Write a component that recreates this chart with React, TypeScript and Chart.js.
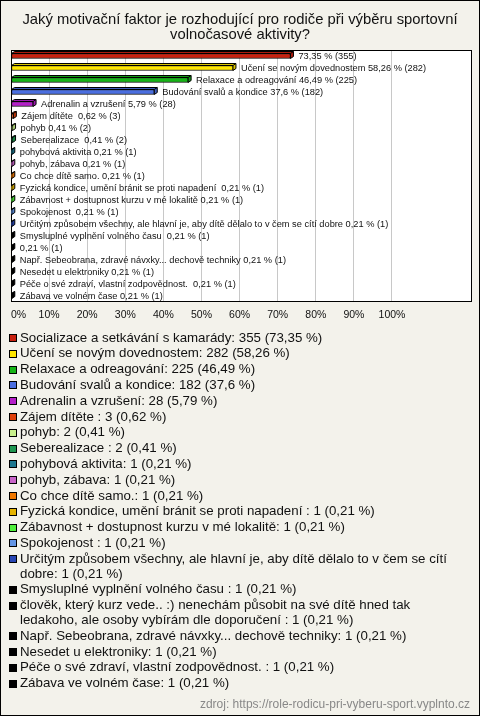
import React, { useEffect, useRef } from 'react';
import { Chart, registerables } from 'chart.js';

Chart.register(...registerables);

const titleLines = [
  'Jaký motivační faktor je rozhodující pro rodiče při výběru sportovní',
  'volnočasové aktivity?',
];

const categories = [
  'Socializace a setkávání s kamarády',
  'Učení se novým dovednostem',
  'Relaxace a odreagování',
  'Budování svalů a kondice',
  'Adrenalin a vzrušení',
  'Zájem dítěte ',
  'pohyb',
  'Seberealizace ',
  'pohybová aktivita',
  'pohyb, zábava',
  'Co chce dítě samo.',
  'Fyzická kondice, umění bránit se proti napadení ',
  'Zábavnost + dostupnost kurzu v mé lokalitě',
  'Spokojenost ',
  'Určitým způsobem všechny, ale hlavní je, aby dítě dělalo to v čem se cítí dobre',
  'Smysluplné vyplnění volného času ',
  'člověk, který kurz vede.. :) nenechám působit na své dítě hned tak ledakoho, ale osoby vybírám dle doporučení ',
  'Např. Sebeobrana, zdravé návxky... dechově techniky',
  'Nesedet u elektroniky',
  'Péče o své zdraví, vlastní zodpovědnost. ',
  'Zábava ve volném čase',
];

const barNames = [
  '',
  'Učení se novým dovednostem',
  'Relaxace a odreagování',
  'Budování svalů a kondice',
  'Adrenalin a vzrušení',
  'Zájem dítěte ',
  'pohyb',
  'Seberealizace ',
  'pohybová aktivita',
  'pohyb, zábava',
  'Co chce dítě samo.',
  'Fyzická kondice, umění bránit se proti napadení ',
  'Zábavnost + dostupnost kurzu v mé lokalitě',
  'Spokojenost ',
  'Určitým způsobem všechny, ale hlavní je, aby dítě dělalo to v čem se cítí dobre',
  'Smysluplné vyplnění volného času ',
  '',
  'Např. Sebeobrana, zdravé návxky... dechově techniky',
  'Nesedet u elektroniky',
  'Péče o své zdraví, vlastní zodpovědnost. ',
  'Zábava ve volném čase',
];

const percents = [73.35, 58.26, 46.49, 37.6, 5.79, 0.62, 0.41, 0.41, 0.21, 0.21, 0.21, 0.21, 0.21, 0.21, 0.21, 0.21, 0.21, 0.21, 0.21, 0.21, 0.21];
const counts = [355, 282, 225, 182, 28, 3, 2, 2, 1, 1, 1, 1, 1, 1, 1, 1, 1, 1, 1, 1, 1];

const colors = [
  '#c8200e', '#ffe600', '#16b416', '#4a6ee0', '#b41ec8', '#e0400a', '#c8f08c',
  '#1e9650', '#1e7890', '#c864c8', '#f07800', '#e6b400', '#50f03c', '#6496e6',
  '#2846b4', '#000000', '#000000', '#000000', '#000000', '#000000', '#000000',
];

const tickValues = [0, 10, 20, 30, 40, 50, 60, 70, 80, 90, 100];
const axisMax = 121;
const sourceText = 'zdroj: https://role-rodicu-pri-vyberu-sport.vyplnto.cz';

const FONT = '"Liberation Sans", Arial, sans-serif';
const fmt = (v: number) => String(v).replace('.', ',');

function shade(hex: string, f: number) {
  const n = parseInt(hex.slice(1), 16);
  const r = Math.round(((n >> 16) & 255) * f);
  const g = Math.round(((n >> 8) & 255) * f);
  const b = Math.round((n & 255) * f);
  return `rgb(${r},${g},${b})`;
}

function wrap(ctx: CanvasRenderingContext2D, text: string, maxW: number) {
  const words = text.split(' ');
  const lines: string[] = [];
  let cur = '';
  for (const w of words) {
    const test = cur ? cur + ' ' + w : w;
    if (ctx.measureText(test).width > maxW && cur) {
      lines.push(cur);
      cur = w;
    } else {
      cur = test;
    }
  }
  if (cur) lines.push(cur);
  return lines;
}

const decorPlugin = {
  id: 'decor',
  beforeDraw(chart: any) {
    const { ctx, chartArea: ca, width, height } = chart;
    ctx.save();
    ctx.fillStyle = '#f3f2eb';
    ctx.fillRect(0, 0, width, height);
    ctx.fillStyle = '#ffffff';
    ctx.fillRect(ca.left, ca.top, ca.right - ca.left, ca.bottom - ca.top);
    ctx.restore();
  },
  beforeDatasetsDraw(chart: any) {
    const { ctx, chartArea: ca } = chart;
    ctx.save();
    ctx.strokeStyle = '#000';
    ctx.lineWidth = 1;
    ctx.strokeRect(ca.left + 0.5, ca.top + 0.5, ca.right - ca.left - 1, ca.bottom - ca.top - 1);
    const meta = chart.getDatasetMeta(0);
    const dx = 3, dy = 2;
    meta.data.forEach((el: any, i: number) => {
      const p = el.getProps(['x', 'y', 'base', 'height'], true);
      const h = p.height;
      const top = p.y - h / 2;
      const bottom = p.y + h / 2;
      const l = p.base, r = p.x;
      ctx.fillStyle = shade(colors[i], 0.85);
      ctx.beginPath();
      ctx.moveTo(l, top);
      ctx.lineTo(l + dx, top - dy);
      ctx.lineTo(r + dx, top - dy);
      ctx.lineTo(r + dx, bottom - dy);
      ctx.lineTo(r, bottom);
      ctx.lineTo(r, top);
      ctx.closePath();
      ctx.fill();
      ctx.stroke();
      ctx.beginPath();
      ctx.moveTo(r, top);
      ctx.lineTo(r + dx, top - dy);
      ctx.stroke();
    });
    ctx.restore();
  },
  afterDatasetsDraw(chart: any) {
    const { ctx } = chart;
    const meta = chart.getDatasetMeta(0);
    ctx.save();
    ctx.font = `9.25px ${FONT}`;
    ctx.fillStyle = '#111';
    ctx.textBaseline = 'middle';
    ctx.textAlign = 'left';
    meta.data.forEach((el: any, i: number) => {
      const p = el.getProps(['x', 'y'], true);
      const name = barNames[i] ? barNames[i] + ' ' : '';
      ctx.fillText(`${name}${fmt(percents[i])} % (${counts[i]})`, p.x + 8, p.y);
    });
    ctx.restore();
  },
  afterDraw(chart: any) {
    const { ctx, width, height, chartArea: ca } = chart;
    const xs = chart.scales.x;
    ctx.save();
    // x tick labels
    ctx.fillStyle = '#111';
    ctx.font = `10.5px ${FONT}`;
    ctx.textBaseline = 'middle';
    tickValues.forEach((v, i) => {
      const px = xs.getPixelForValue(v);
      ctx.textAlign = i === 0 ? 'left' : 'center';
      ctx.fillText(`${v}%`, i === 0 ? ca.left : px, ca.bottom + 13);
    });
    // title
    ctx.font = `14.8px ${FONT}`;
    ctx.textAlign = 'center';
    titleLines.forEach((t, i) => ctx.fillText(t, 240, 20 + i * 15));
    // legend
    ctx.font = `13.3px ${FONT}`;
    ctx.textAlign = 'left';
    let y = 338;
    categories.forEach((c, i) => {
      const text = `${c}: ${counts[i]} (${fmt(percents[i])} %)`;
      const lines = wrap(ctx, text, 445);
      ctx.fillStyle = colors[i];
      ctx.fillRect(9, Math.round(y) - 4, 8, 8);
      ctx.strokeStyle = '#000';
      ctx.lineWidth = 1;
      ctx.strokeRect(9.5, Math.round(y) - 3.5, 7, 7);
      ctx.fillStyle = '#111';
      lines.forEach((ln, k) => {
        if (k > 0) y += 14.8;
        ctx.fillText(ln, 20, y);
      });
      y += 15.8;
    });
    // source
    ctx.font = `12px ${FONT}`;
    ctx.fillStyle = '#888';
    ctx.textAlign = 'right';
    ctx.fillText(sourceText, 470, 705);
    // outer border
    ctx.strokeStyle = '#000';
    ctx.lineWidth = 1;
    ctx.strokeRect(0.5, 0.5, width - 1, height - 1);
    ctx.restore();
  },
};

export default function App() {
  const ref = useRef<HTMLCanvasElement>(null);
  useEffect(() => {
    document.body.style.margin = '0';
    const canvas = ref.current!;
    const chart = new Chart(canvas, {
      type: 'bar',
      data: {
        labels: categories,
        datasets: [
          {
            data: percents,
            backgroundColor: colors,
            borderColor: '#000',
            borderWidth: 1,
            borderSkipped: false,
            barThickness: 5,
          },
        ],
      },
      options: {
        indexAxis: 'y',
        responsive: false,
        animation: false,
        devicePixelRatio: 1,
        layout: { padding: { left: 11, right: 8, top: 50, bottom: 390 } },
        plugins: { legend: { display: false }, tooltip: { enabled: false }, title: { display: false } },
        scales: {
          x: {
            min: 0,
            max: axisMax,
            afterBuildTicks: (axis: any) => {
              axis.ticks = tickValues.map((v) => ({ value: v }));
            },
            afterFit: (axis: any) => {
              axis.height = 24;
            },
            grid: { color: '#c8c8c8', lineWidth: 1, drawTicks: false },
            border: { display: false },
            ticks: { display: false },
          },
          y: { type: 'category', display: false },
        },
      },
      plugins: [decorPlugin],
    } as any);
    return () => chart.destroy();
  }, []);
  return <canvas ref={ref} width={480} height={716} style={{ display: 'block' }} />;
}
